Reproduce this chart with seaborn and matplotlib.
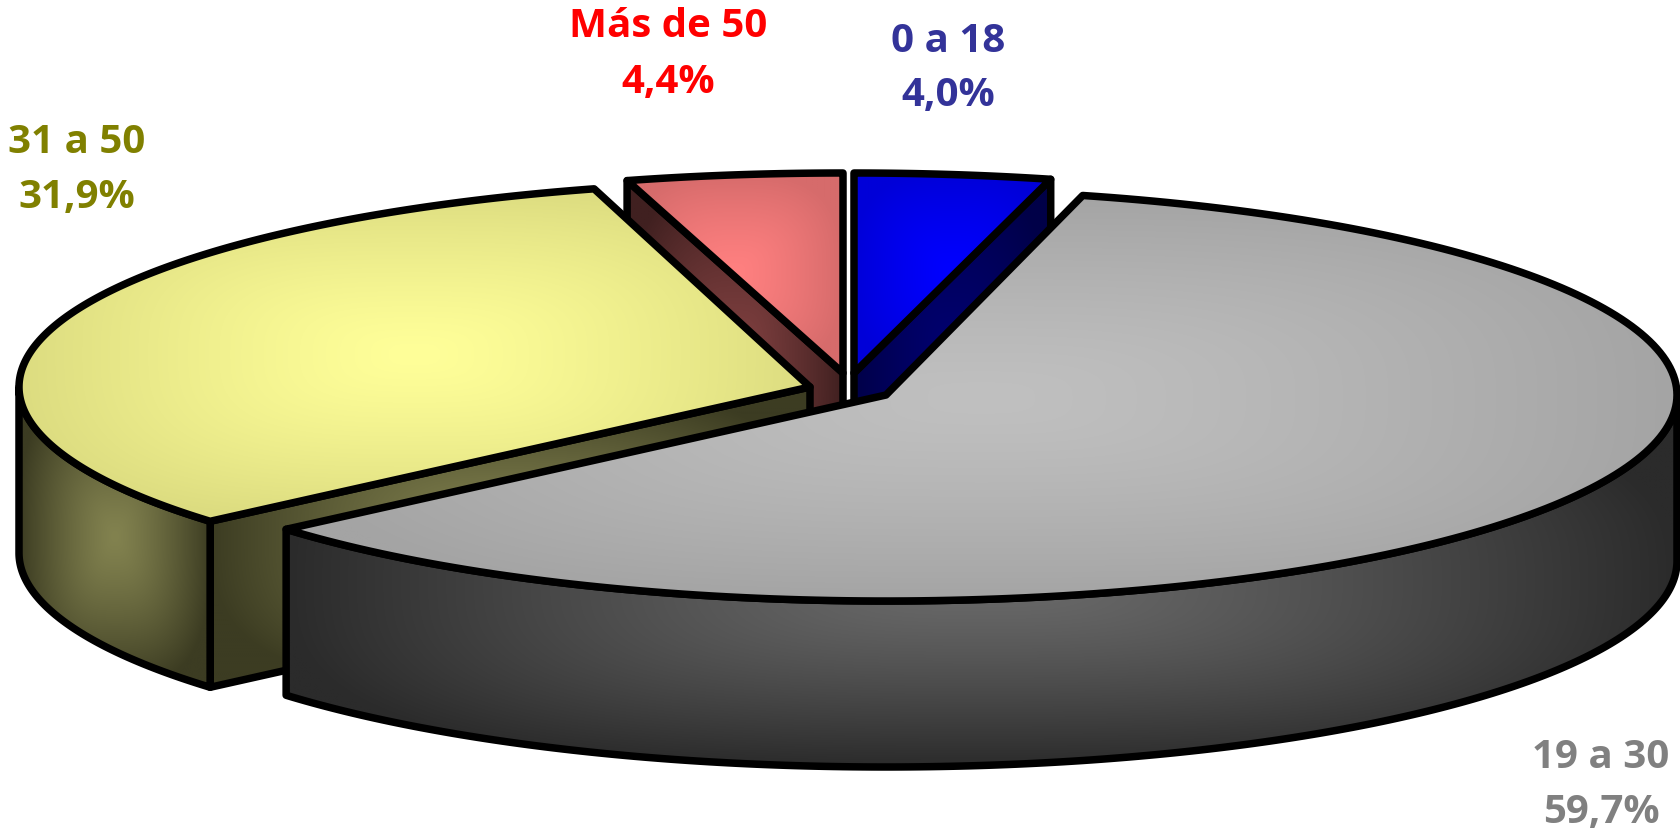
import matplotlib
matplotlib.use('Agg')
import matplotlib.pyplot as plt
from matplotlib.colors import to_rgb
from matplotlib.patches import Polygon
import numpy as np
import seaborn as sns

# Data
labels = ['0 a 18', '19 a 30', '31 a 50', 'Más de 50']
values = [4.0, 59.7, 31.9, 4.4]
pct_labels = ['4,0%', '59,7%', '31,9%', '4,4%']

# Styles, one entry per slice
text_colors = ['#333399', '#808080', '#808000', '#FF0000']
top_inner = ['#0000FF', '#C0C0C0', '#FFFF99', '#FF8080']
top_outer = ['#0000D8', '#A4A4A4', '#DCDC80', '#D66B6B']
wall_inner = ['#000070', '#6A6A6A', '#82824F', '#804040']
wall_outer = ['#000048', '#2B2B2B', '#3C3C22', '#402020']

# Layout in pixels: exploded slice centres, flattened radii and label anchors
centres = [(854, 373), (886, 395), (810, 387), (843, 373)]
radii_y = [200, 206, 206, 200]
label_pos = [(948, 52, 106), (1601, 768, 823), (77, 153, 208), (668, 37, 93)]
RX, DEPTH = 791, 166
EDGE = 5.4
draw_order = [0, 3, 2, 1]

sns.set_theme(style='white')
plt.rcParams['font.family'] = ['Open Sans', 'DejaVu Sans']

fig, ax = plt.subplots(figsize=(16.8, 8.31), dpi=100)
ax.set_position([0, 0, 1, 1])
ax.axis('off')


def rim(cx, cy, ry, a0, a1, n=200):
    a = np.radians(np.linspace(a0, a1, n))
    return np.column_stack([cx + RX * np.sin(a), cy - ry * np.cos(a)])


def shaded(points, inner, outer, z):
    # path gradient over the bounding box of the shape, with black outline
    x0, y0 = points.min(axis=0)
    x1, y1 = points.max(axis=0)
    xx, yy = np.meshgrid(np.linspace(-1, 1, 300), np.linspace(-1, 1, 300))
    t = np.clip((np.abs(xx) ** 3 + np.abs(yy) ** 3) ** (1 / 3), 0, 1)[..., None] ** 1.3
    img = np.array(to_rgb(inner)) * (1 - t) + np.array(to_rgb(outer)) * t
    outline = Polygon(points, closed=True, fc='none', ec='black', lw=EDGE, joinstyle='round', zorder=z + 0.1)
    ax.add_patch(outline)
    clip = Polygon(points, closed=True, transform=ax.transData)
    im = ax.imshow(img, extent=(x0, x1, y1, y0), origin='upper', aspect='auto', interpolation='bilinear', zorder=z)
    im.set_clip_path(clip)


ends = np.cumsum(values) * 3.6
starts = ends - np.array(values) * 3.6

# back slices first, the big grey one last
for n, i in enumerate(draw_order):
    cx, cy = centres[i]
    ry = radii_y[i]
    a0, a1 = starts[i], ends[i]
    z = 1 + n * 2
    down = np.array([0, DEPTH])

    # cut faces looking at the viewer: their normal points down the screen
    for ang, normal in ((a0, a0 - 90), (a1, a1 + 90)):
        if np.cos(np.radians(normal)) < -1e-6:
            p = rim(cx, cy, ry, ang, ang, 1)[0]
            c = np.array([cx, cy])
            shaded(np.array([c, p, p + down, c + down]), wall_inner[i], wall_outer[i], z)

    # curved front wall, angles 90 to 270 face the viewer
    f0, f1 = max(a0, 90), min(a1, 270)
    if f0 < f1:
        arc = rim(cx, cy, ry, f0, f1)
        shaded(np.vstack([arc, (arc + down)[::-1]]), wall_inner[i], wall_outer[i], z + 0.3)

    # top of the slice
    top = np.vstack([[cx, cy], rim(cx, cy, ry, a0, a1)])
    shaded(top, top_inner[i], top_outer[i], z + 0.6)

for i in range(len(values)):
    x, y1, y2 = label_pos[i]
    ax.text(x, y1, labels[i], color=text_colors[i], fontsize=29, fontweight='bold', ha='center', va='baseline', zorder=20)
    ax.text(x, y2, pct_labels[i], color=text_colors[i], fontsize=29, fontweight='bold', ha='center', va='baseline', zorder=20)

ax.set_xlim(0, 1680)
ax.set_ylim(831, 0)
fig.savefig('out.png', dpi=100, facecolor='white')
